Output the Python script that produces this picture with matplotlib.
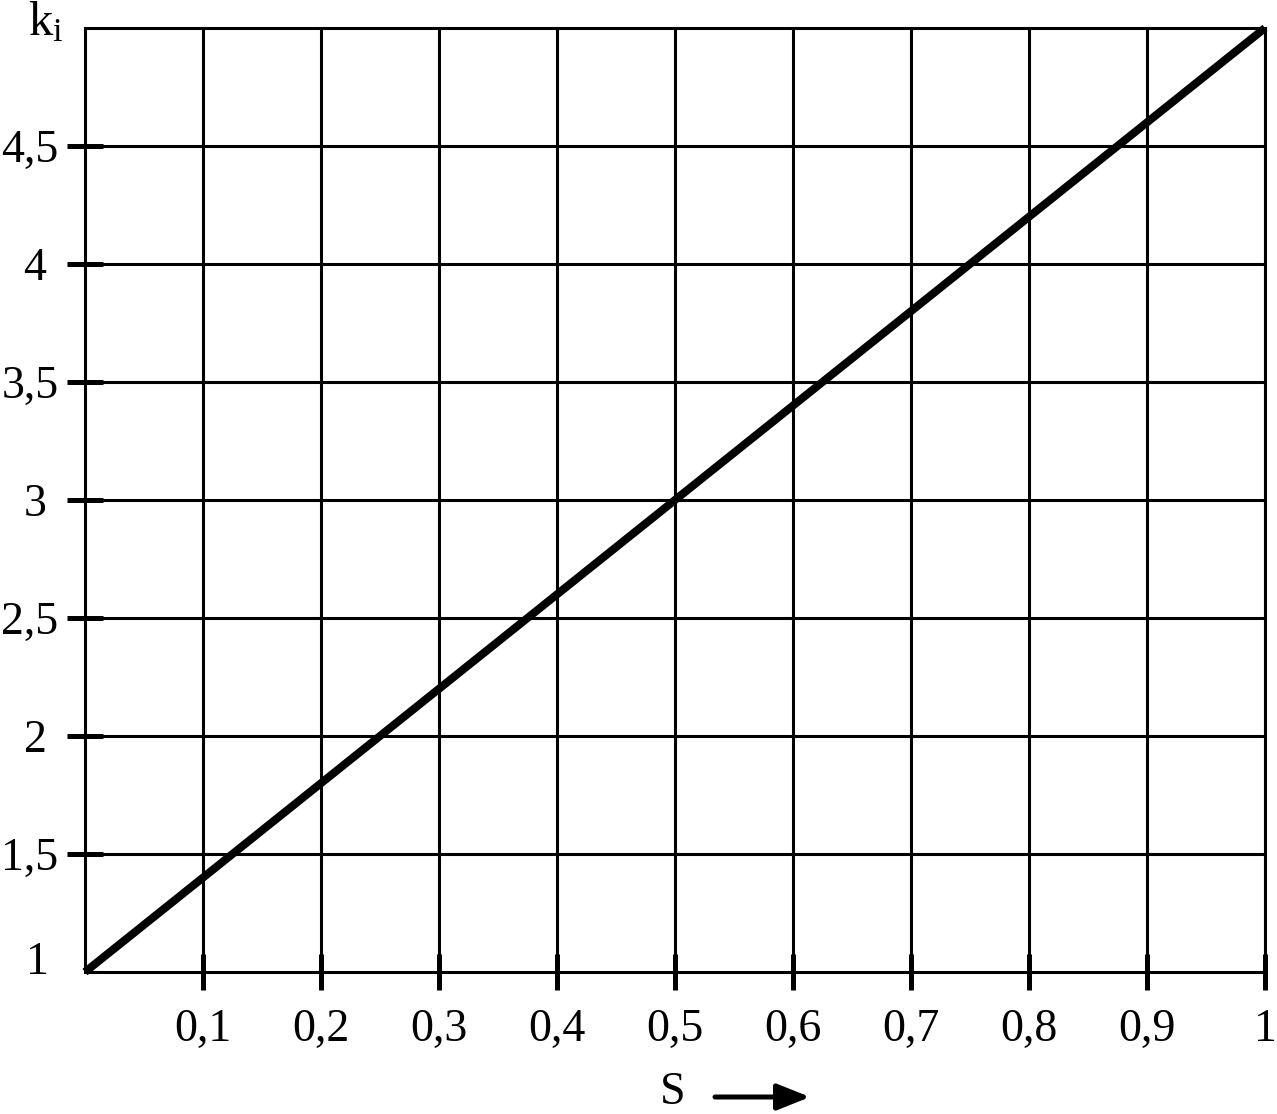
import matplotlib
matplotlib.use("Agg")
import matplotlib.pyplot as plt

plt.rcParams['font.family'] = ['Liberation Serif', 'DejaVu Serif']
plt.rcParams['mathtext.fontset'] = 'custom'
plt.rcParams['mathtext.rm'] = 'Liberation Serif'
plt.rcParams['mathtext.it'] = 'Liberation Serif'

# data
s_values = [0.0, 0.1, 0.2, 0.3, 0.4, 0.5, 0.6, 0.7, 0.8, 0.9, 1.0]
k_values = [1.0, 1.4, 1.8, 2.2, 2.6, 3.0, 3.4, 3.8, 4.2, 4.6, 5.0]

x_ticks = [0.1, 0.2, 0.3, 0.4, 0.5, 0.6, 0.7, 0.8, 0.9, 1.0]
x_tick_labels = ["0,1", "0,2", "0,3", "0,4", "0,5", "0,6", "0,7", "0,8", "0,9", "1"]
y_ticks = [1.5, 2.0, 2.5, 3.0, 3.5, 4.0, 4.5]
y_tick_labels = ["1,5", "2 ", "2,5", "3 ", "3,5", "4 ", "4,5"]

fig = plt.figure(figsize=(12.77, 11.14), dpi=100)
ax = fig.add_axes([85 / 1277, 1 - 972 / 1114, 1180 / 1277, 944 / 1114])

ax.plot(s_values, k_values, color="black", linewidth=5.8, solid_capstyle="butt", clip_on=False, zorder=5)

ax.set_xlim(0, 1)
ax.set_ylim(1, 5)
ax.set_xticks(x_ticks)
ax.set_xticklabels(x_tick_labels)
ax.set_yticks(y_ticks)
ax.set_yticklabels(y_tick_labels)
ax.tick_params(direction="inout", length=26, width=3.6, labelsize=33, colors="black")
ax.tick_params(axis="x", pad=13)
ax.tick_params(axis="y", pad=6)

ax.grid(True, color="black", linewidth=2.2)
for sp in ax.spines.values():
    sp.set_linewidth(2.2)

# labels at the axis ends
ax.text(-0.031, 1.038, "1", transform=ax.get_yaxis_transform(), ha="right", va="center", fontsize=33)
ax.text(-0.018, 4.97, r"k$_\mathrm{i}$", transform=ax.get_yaxis_transform(), ha="right", va="baseline", fontsize=35)

fig.text(673 / 1277, 1 - 1093 / 1114, "S", ha="center", va="center", fontsize=33)
fig.add_artist(matplotlib.patches.FancyArrowPatch(
    (715 / 1277, 1 - 1097 / 1114), (810 / 1277, 1 - 1097 / 1114),
    transform=fig.transFigure, arrowstyle="-|>,head_length=1.0,head_width=0.4",
    mutation_scale=20, linewidth=3.6, color="black", shrinkA=0, shrinkB=0))

fig.savefig("out.png", dpi=100)
